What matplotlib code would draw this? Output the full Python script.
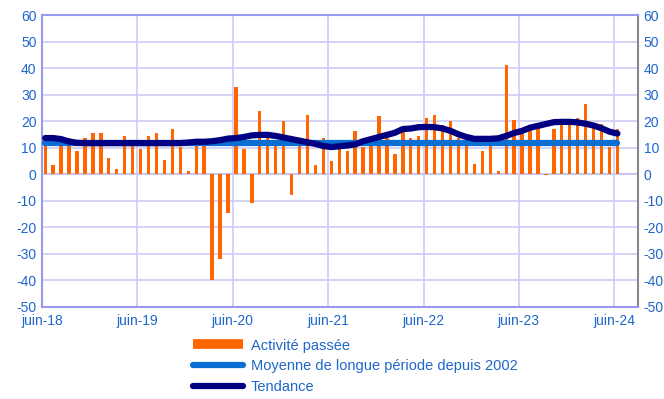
import matplotlib
matplotlib.use("Agg")
import matplotlib.pyplot as plt
from matplotlib.lines import Line2D
import numpy as np

plt.rcParams["font.family"] = ["Liberation Sans", "DejaVu Sans"]
plt.rcParams["axes.unicode_minus"] = False

# monthly survey balances, June 2018 -> June 2024
activite = [14.2, 3.4, 11.0, 13.6, 8.8, 13.6, 15.6, 15.6, 6.2, 2.0,
            14.2, 10.8, 9.4, 14.2, 15.6, 5.4, 17.1, 10.4, 1.3, 11.0,
            11.0, -40.0, -32.0, -14.8, 32.7, 9.4, -10.8, 23.9, 13.8, 11.0,
            19.9, -8.0, 13.6, 22.4, 3.4, 13.6, 4.8, 9.5, 8.9, 16.4,
            10.3, 11.3, 21.8, 13.8, 7.4, 15.7, 13.6, 14.2, 21.1, 22.4,
            18.4, 19.9, 13.6, 11.0, 4.0, 8.9, 11.7, 1.3, 41.0, 20.5,
            15.1, 16.7, 17.4, -0.3, 17.0, 18.6, 18.6, 21.1, 26.5, 17.4,
            19.0, 10.2, 17.0]
tendance = [13.6, 13.6, 13.2, 12.3, 11.8, 11.7, 11.7, 11.7, 11.7, 11.7,
            11.7, 11.7, 11.7, 11.7, 11.7, 11.7, 11.7, 11.7, 11.9, 12.2,
            12.2, 12.4, 12.8, 13.4, 13.6, 14.0, 14.6, 14.8, 14.8, 14.4,
            13.8, 13.2, 12.6, 12.0, 11.4, 10.6, 10.2, 10.5, 10.8, 11.2,
            12.4, 13.2, 14.0, 14.8, 15.6, 17.0, 17.2, 17.7, 17.8, 17.7,
            17.2, 16.3, 15.0, 14.0, 13.3, 13.3, 13.3, 13.5, 14.4, 15.5,
            16.3, 17.5, 18.2, 18.9, 19.6, 19.7, 19.7, 19.5, 19.0, 18.3,
            17.3, 16.0, 15.3]
moyenne = 11.9
tick_labels = ["juin-18", "juin-19", "juin-20", "juin-21", "juin-22", "juin-23", "juin-24"]

txt_col = "#1f66cc"
grid_col = "#ccccf5"
axis_col = "#9999ee"

fig = plt.figure(figsize=(6.64, 3.99), dpi=100)
ax = fig.add_axes([0.0633, 0.2313, 0.8977, 0.7311])

x = np.arange(len(activite)) + 0.4
ax.bar(x, activite, width=0.42, color="#ff6600", zorder=2)
ax.plot([x[0], x[-1]], [moyenne, moyenne], color="#0a6ed2", lw=4.5,
        solid_capstyle="round", zorder=3)
ax.plot(x, tendance, color="#000080", lw=4.5, solid_capstyle="round",
        solid_joinstyle="round", zorder=4)

ax.set_xlim(0, 75)
ax.set_ylim(-50, 60)
ax.set_yticks(range(-50, 61, 10))
ax.set_xticks(np.arange(len(tick_labels)) * 12)
ax.set_xticklabels(tick_labels)
ax.grid(True, color=grid_col, lw=1.2, zorder=0)
ax.axhline(0, color=axis_col, lw=1.2, zorder=1)

for side in ["left", "bottom", "top"]:
    ax.spines[side].set_color(axis_col)
    ax.spines[side].set_linewidth(1.5)
ax.spines["right"].set_color("#888888")
ax.spines["right"].set_linewidth(1.5)

ax.tick_params(axis="both", length=0, labelsize=10, labelcolor=txt_col)
ax.tick_params(axis="y", labelright=True, pad=4)
ax.tick_params(axis="x", pad=5)

handles = [
    Line2D([], [], color="#ff6600", lw=7, solid_capstyle="butt"),
    Line2D([], [], color="#0a6ed2", lw=4.5, solid_capstyle="round"),
    Line2D([], [], color="#000080", lw=4.5, solid_capstyle="round"),
]
labels = ["Activité passée", "Moyenne de longue période depuis 2002", "Tendance"]
leg = fig.legend(handles, labels, loc="upper left", bbox_to_anchor=(0.2907, 0.1516),
                 frameon=False, fontsize=10.5, handlelength=3.43, handletextpad=0.55,
                 labelspacing=0.45, borderpad=0, borderaxespad=0, labelcolor=txt_col)

fig.savefig("out.png", dpi=100)
